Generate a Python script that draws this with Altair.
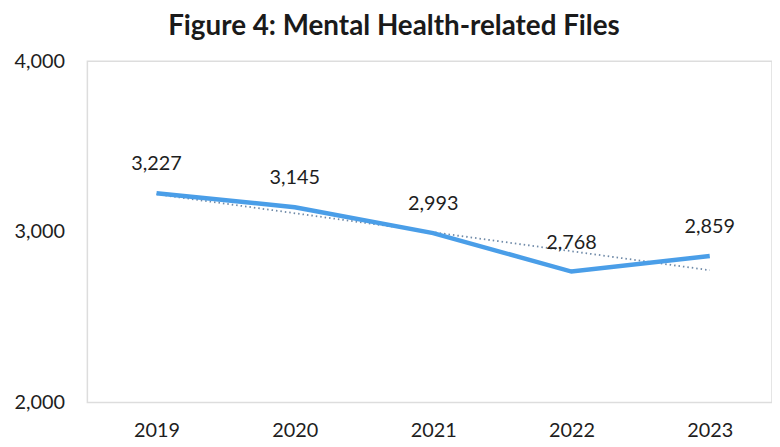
import altair as alt
import pandas as pd

years = [2019, 2020, 2021, 2022, 2023]
values = [3227, 3145, 2993, 2768, 2859]
title_text = "Figure 4: Mental Health-related Files"
y_ticks = [2000, 3000, 4000]

df = pd.DataFrame({"year": years, "value": values})
df["label"] = [f"{v:,}" for v in values]

FONT = "Lato"

x = alt.X("year:Q", scale=alt.Scale(domain=[2018.5, 2023.45], nice=False, zero=False),
          axis=alt.Axis(values=years, format="d", title=None, grid=False, domain=False, ticks=False,
                        labelFontSize=20, labelColor="#1e1e1e", labelPadding=18, labelFont=FONT))
y = alt.Y("value:Q", scale=alt.Scale(domain=[2000, 4000], nice=False, zero=False),
          axis=alt.Axis(values=y_ticks, format=",.0f", title=None, grid=False, domain=False, ticks=False,
                        labelFontSize=20, labelColor="#1e1e1e", labelPadding=23, labelFont=FONT,
                        minExtent=75, maxExtent=75))

base = alt.Chart(df)

trend = base.transform_regression("year", "value").mark_line(
    color="#6f8aa8", strokeWidth=1.8, strokeDash=[1.5, 3]
).encode(x=x, y=y)

line = base.mark_line(color="#4a9ee8", strokeWidth=4.5).encode(x=x, y=y)

labels = base.mark_text(dy=-29, fontSize=20, font=FONT, color="#1e1e1e", baseline="middle").encode(
    x=x, y=y, text="label:N")

chart = (trend + line + labels).properties(
    width=690, height=344,
    padding={"left": 5, "top": 4, "right": 0, "bottom": 0},
    title=alt.TitleParams(title_text, fontSize=28, font=FONT, fontWeight="bold", color="#1a1a1a",
                          anchor="middle", offset=10, dx=-36),
).configure_view(stroke="#dddddd", strokeWidth=1.5)

chart.save("out.html", embed_options={"renderer": "svg", "actions": False})
